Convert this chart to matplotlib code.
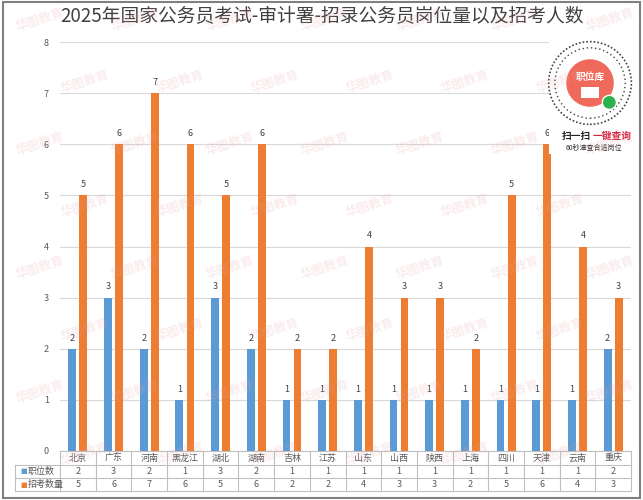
import matplotlib
matplotlib.use("Agg")
import matplotlib.pyplot as plt
from matplotlib.patches import Rectangle, Circle
from matplotlib.transforms import blended_transform_factory
import numpy as np

plt.rcParams['font.family'] = ['Noto Sans CJK SC', 'DejaVu Sans']

title = "2025年国家公务员考试-审计署-招录公务员岗位量以及招考人数"
categories = ["北京", "广东", "河南", "黑龙江", "湖北", "湖南", "吉林", "江苏",
              "山东", "山西", "陕西", "上海", "四川", "天津", "云南", "重庆"]
series_names = ["职位数", "招考数量"]
positions = [2, 3, 2, 1, 3, 2, 1, 1, 1, 1, 1, 1, 1, 1, 1, 2]
applicants = [5, 6, 7, 6, 5, 6, 2, 2, 4, 3, 3, 2, 5, 6, 4, 3]
y_ticks = [0, 1, 2, 3, 4, 5, 6, 7, 8]

blue = "#5B9BD5"
orange = "#ED7D31"
W, H = 643, 500

fig = plt.figure(figsize=(W / 100, H / 100), dpi=100)
fig.patch.set_facecolor("white")

# outer frame
fig.add_artist(Rectangle((3 / W, 2 / H), (W - 6) / W, (H - 4) / H, transform=fig.transFigure,
                         fill=False, edgecolor="#7f7f7f", linewidth=1.5))

fig.text(0.5, 1 - 17 / H, title, ha="center", va="center", fontsize=13.5, color="#404040")

AXW, AXH = 571.0, 409.0
ax = fig.add_axes([60 / W, (H - 451) / H, AXW / W, AXH / H])
n = len(categories)
x = np.arange(n)
bw = 0.22
off = 0.155
b1 = ax.bar(x - off, positions, bw, color=blue, zorder=3)
b2 = ax.bar(x + off, applicants, bw, color=orange, zorder=3)
for bars, vals in ((b1, positions), (b2, applicants)):
    for r, v in zip(bars, vals):
        ax.text(r.get_x() + r.get_width() / 2, v + 0.12, str(v), ha="center", va="bottom",
                fontsize=6.5, color="#404040", zorder=4)

ax.set_xlim(-0.5, n - 0.5)
ax.set_ylim(0, 8)
ax.set_yticks(y_ticks)
ax.set_yticklabels([str(t) for t in y_ticks], fontsize=6.5, color="#595959")
ax.tick_params(axis="y", length=0, pad=8)
ax.set_xticks([])
ax.grid(axis="y", color="#d9d9d9", linewidth=0.8, zorder=0)
for s in ax.spines.values():
    s.set_visible(False)

# data table drawn manually
tr = blended_transform_factory(ax.transData, ax.transAxes)
unit = AXW / n                     # pixels per category
lbl_left = -0.5 - 45.0 / unit      # label column left edge (data units)
row_edges = [0, -14 / AXH, -27 / AXH, -40 / AXH]
lc = "#bfbfbf"
kw = dict(transform=tr, clip_on=False, color=lc, linewidth=0.8)
# horizontal lines
ax.plot([-0.5, n - 0.5], [row_edges[0]] * 2, **kw)
for ye in row_edges[1:]:
    ax.plot([lbl_left, n - 0.5], [ye, ye], **kw)
# vertical lines
for i in range(n + 1):
    ax.plot([i - 0.5, i - 0.5], [row_edges[0], row_edges[3]], **kw)
ax.plot([lbl_left, lbl_left], [row_edges[1], row_edges[3]], **kw)
rows = [categories, [str(v) for v in positions], [str(v) for v in applicants]]
for r, vals in enumerate(rows):
    yc = (row_edges[r] + row_edges[r + 1]) / 2
    for i, t in enumerate(vals):
        ax.text(i, yc, t, transform=tr, ha="center", va="center", fontsize=6.5,
                color="#595959", clip_on=False)
for k, (name, col) in enumerate(zip(series_names, [blue, orange])):
    yc = (row_edges[k + 1] + row_edges[k + 2]) / 2
    ax.text(lbl_left + 0.15, yc, "■", transform=tr, ha="left", va="center", fontsize=5,
            color=col, clip_on=False, family="DejaVu Sans")
    ax.text(lbl_left + 0.36, yc, name, transform=tr, ha="left", va="center", fontsize=6.5,
            color="#595959", clip_on=False)

# watermarks
for row, yy in enumerate(range(20, 500, 62)):
    for xx in range(40 + (row % 2) * 45, 640, 95):
        fig.text(xx / W, 1 - yy / H, "华图教育", fontsize=9, color="#e8a0a8", alpha=0.2,
                 rotation=18, ha="center", va="center", fontweight="bold", zorder=20)

# QR panel
fig.add_artist(Rectangle((549 / W, (H - 154) / H), 89 / W, 120 / H, transform=fig.transFigure,
                         facecolor="white", edgecolor="none", zorder=15))
qax = fig.add_axes([546 / W, (H - 128) / H, 88 / W, 90 / H], zorder=16)
qax.set_xlim(0, 1); qax.set_ylim(0, 1); qax.axis("off")
qax.set_aspect("equal")
qax.add_patch(Circle((0.5, 0.5), 0.47, facecolor="none", edgecolor="#444444", linewidth=1.2,
                     linestyle=(0, (1, 1.2))))
qax.add_patch(Circle((0.5, 0.5), 0.40, facecolor="none", edgecolor="#444444", linewidth=1.0,
                     linestyle=(0, (1, 2.0))))
qax.add_patch(Circle((0.5, 0.5), 0.27, facecolor="#ef6a5a", edgecolor="none"))
qax.text(0.5, 0.57, "职位库", ha="center", va="center", fontsize=7, color="white", fontweight="bold")
qax.add_patch(Rectangle((0.4, 0.33), 0.2, 0.12, facecolor="white", edgecolor="none"))
qax.add_patch(Circle((0.72, 0.28), 0.08, facecolor="#2bb24c", edgecolor="white", linewidth=1))
fig.text(576 / W, 1 - 136 / H, "扫一扫", fontsize=7, color="#222222", ha="center", va="center",
         fontweight="bold", zorder=17)
fig.text(612 / W, 1 - 136 / H, "一键查询", fontsize=7, color="#d6223a", ha="center", va="center",
         fontweight="bold", zorder=17)
fig.text(594 / W, 1 - 148 / H, "60秒速查合适岗位", fontsize=5, color="#333333", ha="center",
         va="center", zorder=17)

fig.savefig("out.png", dpi=100, facecolor="white")
